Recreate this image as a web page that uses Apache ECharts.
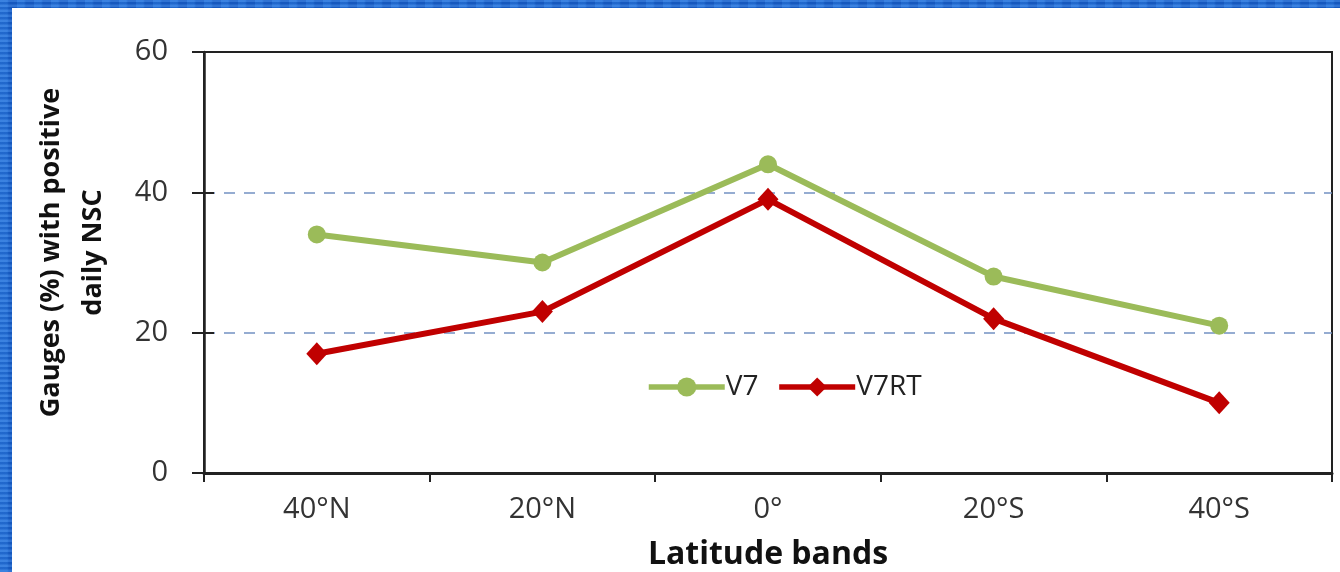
<!DOCTYPE html>
<html>
<head>
<meta charset="utf-8">
<script src="https://cdn.jsdelivr.net/npm/echarts@6/dist/echarts.min.js"></script>
<style>
  html, body { margin: 0; padding: 0; }
  body {
    width: 1340px; height: 572px; overflow: hidden; position: relative;
    background-color: #1b6ad6;
    background-image:
      repeating-linear-gradient(0deg, rgba(255,255,255,0.10) 0px, rgba(255,255,255,0.10) 2px, rgba(0,0,60,0.10) 3px, rgba(0,0,60,0.10) 5px),
      repeating-linear-gradient(90deg, rgba(80,160,255,0.18) 0px, rgba(80,160,255,0.18) 7px, rgba(0,40,140,0.12) 9px, rgba(0,40,140,0.12) 17px);
  }
  #chart {
    position: absolute; left: 12px; top: 8px; width: 1328px; height: 564px;
    background: #ffffff;
  }
</style>
</head>
<body>
<div id="chart"></div>
<script>
// Latitude bands along the x axis
const bands = ['40°N', '20°N', '0°', '20°S', '40°S'];
// Share of gauges (%) with positive daily NSC
const v7 = [34, 30, 44, 28, 21];
const v7rt = [17, 23, 39, 22, 10];
// Value axis ticks
const yTicks = [0, 20, 40, 60];

const font = '"Open Sans", "DejaVu Sans", sans-serif';
const chart = echarts.init(document.getElementById('chart'), null, { renderer: 'canvas' });

chart.setOption({
  animation: false,
  textStyle: { fontFamily: font },
  grid: {
    left: 192, right: 8, top: 44, bottom: 99,
    containLabel: false, outerBoundsMode: 'none',
    show: true, borderColor: '#222', borderWidth: 2, backgroundColor: 'transparent'
  },
  legend: {
    data: ['V7', 'V7RT'],
    left: 629, top: 360,
    itemWidth: 76, itemHeight: 24, itemGap: 18,
    lineStyle: { width: 5.5 },
    textStyle: { fontFamily: font, fontSize: 28, color: '#222', padding: [0, 0, 0, -4] }
  },
  xAxis: {
    type: 'category',
    data: bands,
    boundaryGap: true,
    name: 'Latitude bands',
    nameLocation: 'middle',
    nameGap: 66,
    nameTextStyle: { fontFamily: font, fontSize: 32, fontWeight: 'bold', color: '#111' },
    axisLine: { lineStyle: { color: '#222', width: 3 } },
    axisTick: { show: true, length: 9, lineStyle: { color: '#222', width: 2 } },
    axisLabel: { fontFamily: font, fontSize: 29, color: '#333', margin: 22 },
    splitLine: { show: false }
  },
  yAxis: [
    {
      type: 'value',
      min: yTicks[0], max: yTicks[yTicks.length - 1], interval: 20,
      name: 'Gauges (%) with positive\ndaily NSC',
      nameLocation: 'middle',
      nameGap: 90,
      nameRotate: 90,
      nameTextStyle: {
        fontFamily: font, fontSize: 27, fontWeight: 'bold', color: '#111',
        lineHeight: 42, align: 'center', padding: [0, 0, 0, 20]
      },
      axisLine: { show: true, lineStyle: { color: '#222', width: 2.5 } },
      axisTick: { show: true, length: 12, lineStyle: { color: '#222', width: 2 } },
      axisLabel: { fontFamily: font, fontSize: 29, color: '#333', margin: 36 },
      splitLine: {
        show: true, showMinLine: false, showMaxLine: false,
        lineStyle: { color: '#7391c2', width: 1.5, type: [11, 9] }
      }
    },
    {
      // inner half of the crossing tick marks on the value axis
      type: 'value', position: 'left',
      min: yTicks[0], max: yTicks[yTicks.length - 1], interval: 20,
      axisLine: { show: false },
      axisTick: { show: true, inside: true, length: 10, lineStyle: { color: '#222', width: 2 } },
      axisLabel: { show: false },
      splitLine: { show: false }
    }
  ],
  series: [
    {
      name: 'V7', type: 'line', data: v7,
      symbol: 'circle', symbolSize: 18,
      lineStyle: { color: '#9bbb59', width: 6 },
      itemStyle: { color: '#9bbb59' },
      z: 3
    },
    {
      name: 'V7RT', type: 'line', data: v7rt,
      symbol: 'diamond', symbolSize: [21, 23],
      lineStyle: { color: '#c00000', width: 6 },
      itemStyle: { color: '#c00000' },
      z: 4
    }
  ]
});
</script>
</body>
</html>
